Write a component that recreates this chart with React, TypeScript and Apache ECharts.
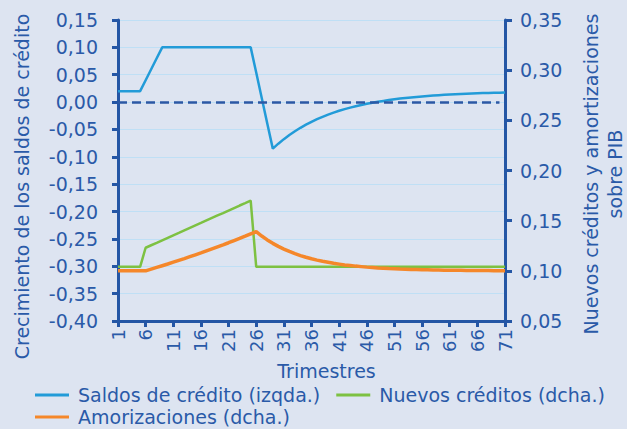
import React, { useEffect, useRef } from "react";
import * as echarts from "echarts";

const categories = [
  "1","2","3","4","5","6","7","8","9","10","11","12","13","14","15","16","17","18","19","20",
  "21","22","23","24","25","26","27","28","29","30","31","32","33","34","35","36","37","38","39","40",
  "41","42","43","44","45","46","47","48","49","50","51","52","53","54","55","56","57","58","59","60",
  "61","62","63","64","65","66","67","68","69","70","71",
];

// Saldos de crédito (izqda.)
const saldos = [
  0.02, 0.02, 0.02, 0.02, 0.02,
  0.04, 0.06, 0.08, 0.10,
  0.10, 0.10, 0.10, 0.10, 0.10, 0.10, 0.10, 0.10, 0.10, 0.10, 0.10, 0.10, 0.10, 0.10, 0.10, 0.10,
  0.054, 0.0075, -0.039, -0.085,
  -0.076, -0.0677, -0.0601, -0.0533, -0.047, -0.0413, -0.036, -0.0312, -0.0269, -0.0229,
  -0.0193, -0.0159, -0.0129, -0.0101, -0.0076, -0.0053, -0.0032, -0.0013, 0.0005, 0.0021,
  0.0037, 0.0051, 0.0064, 0.0075, 0.0085, 0.0095, 0.0104, 0.0112, 0.0119, 0.0126,
  0.0132, 0.0138, 0.0143, 0.0148, 0.0152, 0.0156, 0.016, 0.0164, 0.0167, 0.017,
  0.0172, 0.0175,
];

// Nuevos créditos (dcha.)
const nuevos = [
  0.104, 0.104, 0.104, 0.104, 0.104,
  0.123, 0.1255, 0.1279, 0.1304, 0.1329, 0.1354, 0.1378, 0.1403, 0.1428, 0.1453,
  0.1477, 0.1502, 0.1527, 0.1552, 0.1576, 0.1601, 0.1626, 0.1651, 0.1675, 0.170,
  0.104, 0.104, 0.104, 0.104, 0.104, 0.104, 0.104, 0.104, 0.104, 0.104,
  0.104, 0.104, 0.104, 0.104, 0.104, 0.104, 0.104, 0.104, 0.104, 0.104,
  0.104, 0.104, 0.104, 0.104, 0.104, 0.104, 0.104, 0.104, 0.104, 0.104,
  0.104, 0.104, 0.104, 0.104, 0.104, 0.104, 0.104, 0.104, 0.104, 0.104,
  0.104, 0.104, 0.104, 0.104, 0.104, 0.104,
];

// Amorizaciones (dcha.)
const amortizaciones = [
  0.100, 0.100, 0.100, 0.100, 0.100, 0.100,
  0.1017, 0.1034, 0.1051, 0.1068, 0.1086, 0.1104, 0.1122, 0.1141, 0.116, 0.1179,
  0.1199, 0.1219, 0.1239, 0.1259, 0.128, 0.1302, 0.1323, 0.1345, 0.1368, 0.139,
  0.1347, 0.1308, 0.1274, 0.1244, 0.1217, 0.1193, 0.1171, 0.1152, 0.1135, 0.112,
  0.1107, 0.1095, 0.1085, 0.1075, 0.1067, 0.1059, 0.1053, 0.1047, 0.1042, 0.1037,
  0.1033, 0.1029, 0.1026, 0.1023, 0.1021, 0.1018, 0.1016, 0.1014, 0.1013, 0.1011,
  0.101, 0.1009, 0.1008, 0.1007, 0.1006, 0.1005, 0.1005, 0.1004, 0.1004, 0.1003,
  0.1003, 0.1003, 0.1002, 0.1002, 0.1002,
];

const zeroLineFrom = "1";
const zeroLineTo = "70";

const SERIES_NAMES = [
  "Saldos de crédito (izqda.)",
  "Nuevos créditos (dcha.)",
  "Amorizaciones (dcha.)",
];

const TEXT = "#2a5aa8";
const AXIS = "#2456a5";
const FONT = "DejaVu Sans";

const fmt = (v: number) => {
  const x = Math.abs(v) < 1e-9 ? 0 : v;
  return x.toFixed(2).replace(".", ",");
};

export default function App() {
  const ref = useRef<HTMLDivElement>(null);
  useEffect(() => {
    if (!ref.current) return;
    const chart = echarts.init(ref.current, undefined, { renderer: "svg" });
    const legendText = {
      fontSize: 19,
      color: TEXT,
      fontFamily: FONT,
      lineHeight: 22,
      padding: [0, 0, 0, 4],
    };
    chart.setOption({
      animation: false,
      backgroundColor: "#dde4f1",
      textStyle: { fontFamily: FONT },
      grid: {
        left: 118,
        right: 122,
        top: 20,
        bottom: 108,
        containLabel: false,
        outerBoundsMode: "none",
      },
      legend: [
        {
          data: [SERIES_NAMES[0], SERIES_NAMES[1]],
          left: 30,
          top: 379,
          icon: "rect",
          itemWidth: 34,
          itemHeight: 3,
          itemGap: 16,
          textStyle: legendText,
        },
        {
          data: [SERIES_NAMES[2]],
          left: 30,
          top: 401,
          icon: "rect",
          itemWidth: 34,
          itemHeight: 3,
          itemGap: 16,
          textStyle: legendText,
        },
      ],
      xAxis: {
        type: "category",
        data: categories,
        boundaryGap: false,
        name: "Trimestres",
        nameLocation: "middle",
        nameGap: 40,
        nameTextStyle: { color: TEXT, fontSize: 19, fontFamily: FONT, padding: [0, 0, 0, 30] },
        axisLine: { onZero: false, lineStyle: { color: AXIS, width: 3 } },
        axisTick: { interval: 4, length: 6, lineStyle: { color: AXIS, width: 3 } },
        axisLabel: { interval: 4, rotate: 90, margin: 8, fontSize: 18, color: TEXT, fontFamily: FONT },
        splitLine: { show: false },
      },
      yAxis: [
        {
          type: "value",
          position: "left",
          min: -0.4,
          max: 0.15,
          interval: 0.05,
          name: "Crecimiento de los saldos de crédito",
          nameLocation: "middle",
          nameGap: 87,
          nameTextStyle: { color: TEXT, fontSize: 19, fontFamily: FONT, padding: [0, 32, 0, 0] },
          axisLine: { show: true, lineStyle: { color: AXIS, width: 3 } },
          axisTick: { show: true, length: 6, lineStyle: { color: AXIS, width: 3 } },
          axisLabel: { margin: 20, fontSize: 19, color: TEXT, fontFamily: FONT, formatter: fmt },
          splitLine: { show: true, lineStyle: { color: "#bfdff5", width: 1 } },
        },
        {
          type: "value",
          position: "right",
          min: 0.05,
          max: 0.35,
          interval: 0.05,
          name: "Nuevos créditos y amortizaciones\nsobre PIB",
          nameLocation: "middle",
          nameGap: 74,
          nameTextStyle: { color: TEXT, fontSize: 19, fontFamily: FONT, lineHeight: 24, padding: [0, 7, 0, 0] },
          axisLine: { show: true, lineStyle: { color: AXIS, width: 3 } },
          axisTick: { show: true, length: 7, lineStyle: { color: AXIS, width: 3 } },
          axisLabel: { margin: 15, fontSize: 19, color: TEXT, fontFamily: FONT, formatter: fmt },
          splitLine: { show: false },
        },
      ],
      series: [
        {
          name: SERIES_NAMES[0],
          type: "line",
          yAxisIndex: 0,
          data: saldos,
          showSymbol: false,
          symbol: "none",
          color: "#229bd8",
          lineStyle: { width: 2.5, color: "#229bd8" },
          z: 3,
          markLine: {
            silent: true,
            symbol: "none",
            label: { show: false },
            lineStyle: { color: "#2b58a5", width: 2.5, type: [9, 5] },
            data: [[{ coord: [zeroLineFrom, 0] }, { coord: [zeroLineTo, 0] }]],
          },
        },
        {
          name: SERIES_NAMES[1],
          type: "line",
          yAxisIndex: 1,
          data: nuevos,
          showSymbol: false,
          symbol: "none",
          color: "#7dc142",
          lineStyle: { width: 2.5, color: "#7dc142" },
          z: 2,
        },
        {
          name: SERIES_NAMES[2],
          type: "line",
          yAxisIndex: 1,
          data: amortizaciones,
          showSymbol: false,
          symbol: "none",
          color: "#f5872a",
          lineStyle: { width: 3.5, color: "#f5872a" },
          z: 2,
        },
      ],
    });
    return () => chart.dispose();
  }, []);
  return <div ref={ref} style={{ width: 627, height: 429, position: "absolute", left: 0, top: 0 }} />;
}
